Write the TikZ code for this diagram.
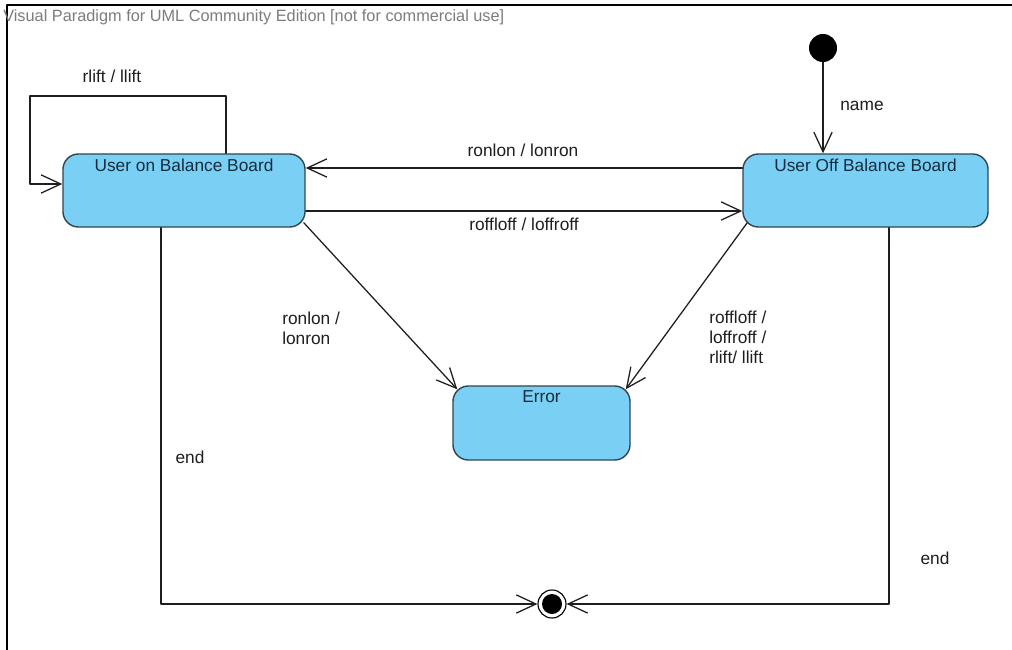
\documentclass[tikz,border=0pt]{standalone}
\usepackage{fontspec}
\setmainfont{Liberation Sans}
\usetikzlibrary{calc,arrows.meta}
\definecolor{stfill}{RGB}{122,207,245}
\definecolor{stline}{RGB}{50,70,80}
\definecolor{sttext}{RGB}{20,45,60}
\definecolor{lbltext}{RGB}{30,30,30}
\definecolor{wmark}{RGB}{125,125,125}
\begin{document}
\begin{tikzpicture}[x=0.025cm,y=-0.025cm,line cap=round,line join=round,
  state/.style={draw=stline,fill=stfill,line width=1pt,rounded corners=11pt,inner sep=0pt},
  sname/.style={anchor=north,inner sep=0pt,text=sttext,font=\fontsize{12.3}{14}\selectfont},
  lbl/.style={inner sep=0pt,text=lbltext,font=\fontsize{12.3}{14.2}\selectfont},
  trans/.style={line width=0.9pt,draw=lbltext,-{Straight Barb[length=14pt,width=13pt]}}]
  \useasboundingbox[fill=white] (0,0) rectangle (1012,650);
  \draw[line width=1.1pt] (7,650) -- (7,5) -- (1012,5);
  \node[anchor=west,inner sep=0pt,text=wmark,font=\fontsize{11.6}{13}\selectfont] (wm) at (3,17) {Visual Paradigm for UML Community Edition [not for commercial use]};
  \node[state,minimum width=6.05cm,minimum height=1.825cm] (on) at (184,190.5) {};
  \node[state,minimum width=6.125cm,minimum height=1.825cm] (off) at (865.5,190.5) {};
  \node[state,minimum width=4.425cm,minimum height=1.85cm] (err) at (541.5,423) {};
  \node[sname] (onname) at ($(on.north)+(0,5)$) {User on Balance Board};
  \node[sname] (offname) at ($(off.north)+(0,5)$) {User Off Balance Board};
  \node[sname] (errname) at ($(err.north)+(0,5)$) {Error};
  \node[circle,fill=black,inner sep=0pt,minimum size=0.7cm] (ini) at (823,48) {};
  \node[circle,draw=black,fill=white,line width=0.8pt,inner sep=0pt,minimum size=0.7cm] (fin) at (552,604) {};
  \fill (fin.center) circle (10);
  \coordinate (loop) at (30,96);
  \draw[trans] ($(on.north)+(42,0)$) |- (loop) |- ($(on.west)+(0,-6.5)$);
  \draw[trans] (ini) -- (ini |- off.north);
  \draw[trans] ($(off.west)+(0,-22.5)$) -- ($(on.east)+(0,-22.5)$);
  \draw[trans] ($(on.east)+(0,20.5)$) -- ($(off.west)+(0,20.5)$);
  \draw[trans] ($(on.south east)+(-2,-5)$) -- ($(err.north west)+(5,4)$);
  \draw[trans] ($(off.south west)+(5,-5)$) -- ($(err.north east)+(-5,4)$);
  \draw[trans] ($(on.south)+(-23,0)$) |- (fin.west);
  \draw[trans] ($(off.south)+(23.5,0)$) |- (fin.east);
  \node[lbl] (l1) at (112,76) {rlift / llift};
  \node[lbl] (l2) at (862,106) {name};
  \node[lbl] (l3) at (523,150) {ronlon / lonron};
  \node[lbl] (l4) at (524,224) {roffloff / loffroff};
  \node[lbl,anchor=north west,align=left] (l5) at (282,312) {ronlon /\\lonron};
  \node[lbl,anchor=north west,align=left] (l6) at (709,311) {roffloff /\\loffroff /\\rlift/ llift};
  \node[lbl] (l7) at (190,457) {end};
  \node[lbl] (l8) at (935,558) {end};
\end{tikzpicture}
\end{document}
